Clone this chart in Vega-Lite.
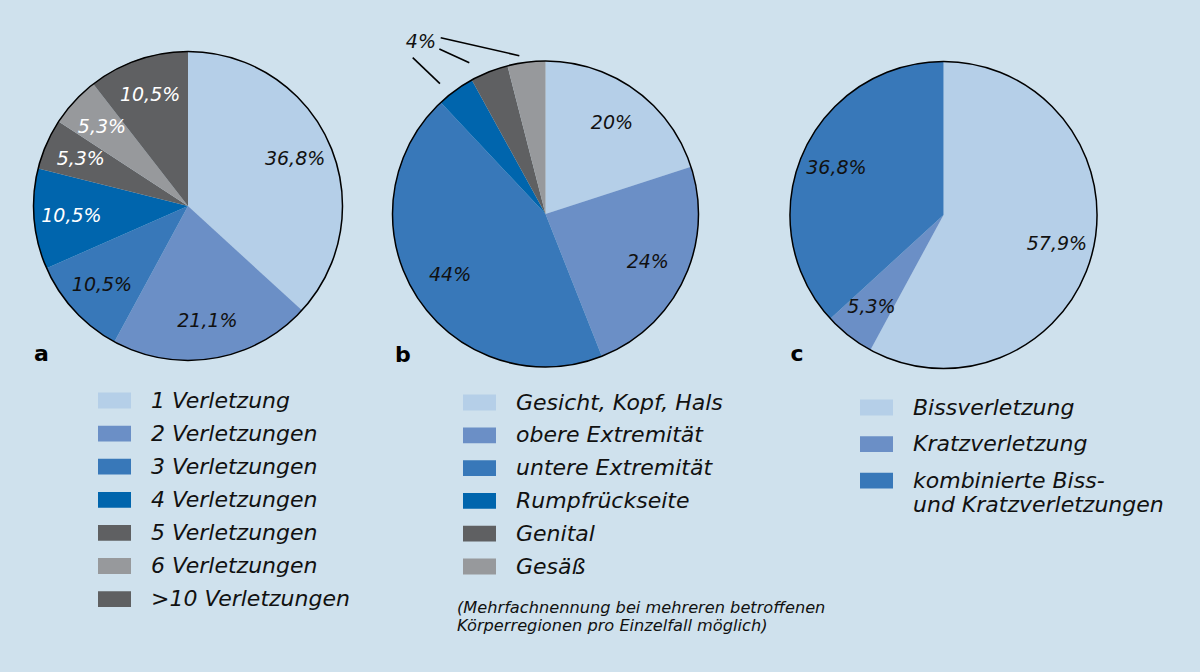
{
  "$schema": "https://vega.github.io/schema/vega-lite/v6.json",
  "background": "#cfe1ed",
  "padding": {"left": 0, "top": 0, "right": 28, "bottom": 0},
  "datasets": {
    "a": [
      {"cat": "1 Verletzung", "pct": 36.8, "label": "36,8%", "idx": 1},
      {"cat": "2 Verletzungen", "pct": 21.1, "label": "21,1%", "idx": 2},
      {"cat": "3 Verletzungen", "pct": 10.5, "label": "10,5%", "idx": 3},
      {"cat": "4 Verletzungen", "pct": 10.5, "label": "10,5%", "idx": 4},
      {"cat": "5 Verletzungen", "pct": 5.3, "label": "5,3%", "idx": 5},
      {"cat": "6 Verletzungen", "pct": 5.3, "label": "5,3%", "idx": 6},
      {"cat": ">10 Verletzungen", "pct": 10.5, "label": "10,5%", "idx": 7}
    ],
    "b": [
      {"cat": "Gesicht, Kopf, Hals", "pct": 20, "label": "20%", "idx": 1},
      {"cat": "obere Extremität", "pct": 24, "label": "24%", "idx": 2},
      {"cat": "untere Extremität", "pct": 44, "label": "44%", "idx": 3},
      {"cat": "Rumpfrückseite", "pct": 4, "label": "4%", "idx": 4},
      {"cat": "Genital", "pct": 4, "label": "4%", "idx": 5},
      {"cat": "Gesäß", "pct": 4, "label": "4%", "idx": 6}
    ],
    "c": [
      {"cat": "Bissverletzung", "pct": 57.9, "label": "57,9%", "idx": 1},
      {"cat": "Kratzverletzung", "pct": 5.3, "label": "5,3%", "idx": 2},
      {"cat": "kombinierte Biss- und Kratzverletzungen", "pct": 36.8, "label": "36,8%", "idx": 3}
    ],
    "outline": [{"v": 1}],
    "leaders": [
      {"x": -0.868, "y": 1.022, "x2": -0.690, "y2": 0.852},
      {"x": -0.694, "y": 1.078, "x2": -0.498, "y2": 0.989},
      {"x": -0.685, "y": 1.152, "x2": -0.171, "y2": 1.035}
    ]
  },
  "columns": 3,
  "spacing": 0,
  "bounds": "flush",
  "align": "each",
  "concat": [
    {
      "width": 376,
      "height": 412,
      "title": {"text": "a", "orient": "top", "anchor": "start", "frame": "group", "baseline": "alphabetic", "offset": -383.4, "dx": 34, "fontSize": 22, "fontWeight": "bold", "font": "DejaVu Sans", "color": "#000"},
      "layer": [
        {
          "data": {"name": "a"},
          "mark": {"type": "arc", "outerRadius": 154.5},
          "encoding": {
            "theta": {"field": "pct", "type": "quantitative", "stack": true},
            "order": {"field": "idx", "type": "quantitative"},
            "color": {
              "field": "cat", "type": "nominal",
              "scale": {
                "domain": ["1 Verletzung", "2 Verletzungen", "3 Verletzungen", "4 Verletzungen", "5 Verletzungen", "6 Verletzungen", ">10 Verletzungen"],
                "range": ["#b5cfe8", "#6b8fc6", "#3878b9", "#0065ad", "#5f6062", "#97999c", "#5f6062"]
              },
              "legend": {"orient": "none", "legendX": 98, "legendY": 384, "rowPadding": 5.1}
            }
          }
        },
        {
          "data": {"name": "a"},
          "mark": {"type": "text", "radius": 117, "fontSize": 19, "fontStyle": "italic", "font": "DejaVu Sans"},
          "encoding": {
            "theta": {"field": "pct", "type": "quantitative", "stack": true},
            "order": {"field": "idx", "type": "quantitative"},
            "detail": {"field": "cat", "type": "nominal"},
            "text": {"field": "label", "type": "nominal"},
            "color": {"condition": {"test": "datum.idx >= 4", "value": "#ffffff"}, "value": "#111111"}
          }
        },
        {
          "data": {"name": "outline"},
          "mark": {"type": "arc", "outerRadius": 154.5, "filled": false, "stroke": "#000000", "strokeWidth": 1.5},
          "encoding": {"theta": {"field": "v", "type": "quantitative"}}
        }
      ],
      "resolve": {"scale": {"theta": "independent"}}
    },
    {
      "width": 339,
      "height": 428,
      "title": {"text": "b", "orient": "top", "anchor": "start", "frame": "group", "baseline": "alphabetic", "offset": -384, "dx": 19, "fontSize": 22, "fontWeight": "bold", "font": "DejaVu Sans", "color": "#000"},
      "layer": [
        {
          "data": {"name": "b"},
          "mark": {"type": "arc", "outerRadius": 153},
          "encoding": {
            "theta": {"field": "pct", "type": "quantitative", "stack": true},
            "order": {"field": "idx", "type": "quantitative"},
            "color": {
              "field": "cat", "type": "nominal",
              "scale": {
                "domain": ["Gesicht, Kopf, Hals", "obere Extremität", "untere Extremität", "Rumpfrückseite", "Genital", "Gesäß"],
                "range": ["#b5cfe8", "#6b8fc6", "#3878b9", "#0065ad", "#5f6062", "#97999c"]
              },
              "legend": {"orient": "none", "legendX": 87, "legendY": 386, "rowPadding": 4.8}
            }
          }
        },
        {
          "data": {"name": "b"},
          "mark": {"type": "text", "radius": 113, "fontSize": 19, "fontStyle": "italic", "font": "DejaVu Sans", "color": "#111111"},
          "encoding": {
            "theta": {"field": "pct", "type": "quantitative", "stack": true},
            "order": {"field": "idx", "type": "quantitative"},
            "detail": {"field": "cat", "type": "nominal"},
            "text": {"condition": {"test": "datum.pct > 10", "field": "label", "type": "nominal"}, "value": ""},
            "size": {"condition": {"test": "datum.pct > 10", "value": 19}, "value": 0}
          }
        },
        {
          "data": {"name": "b"},
          "mark": {"type": "text", "radius": 212, "fontSize": 19, "fontStyle": "italic", "font": "DejaVu Sans", "color": "#111111"},
          "encoding": {
            "theta": {"field": "pct", "type": "quantitative", "stack": true},
            "order": {"field": "idx", "type": "quantitative"},
            "detail": {"field": "cat", "type": "nominal"},
            "text": {"condition": {"test": "datum.idx === 4", "field": "label", "type": "nominal"}, "value": ""},
            "size": {"condition": {"test": "datum.idx === 4", "value": 19}, "value": 0}
          }
        },
        {
          "data": {"name": "leaders"},
          "mark": {"type": "rule", "stroke": "#000000", "strokeWidth": 1.6},
          "encoding": {
            "x": {"field": "x", "type": "quantitative", "scale": {"domain": [-1.108, 1.108], "nice": false, "zero": false}, "axis": null},
            "y": {"field": "y", "type": "quantitative", "scale": {"domain": [-1.399, 1.399], "nice": false, "zero": false}, "axis": null},
            "x2": {"field": "x2"},
            "y2": {"field": "y2"}
          }
        },
        {
          "data": {"name": "outline"},
          "mark": {"type": "arc", "outerRadius": 153, "filled": false, "stroke": "#000000", "strokeWidth": 1.5},
          "encoding": {"theta": {"field": "v", "type": "quantitative"}}
        }
      ],
      "resolve": {"scale": {"theta": "independent"}}
    },
    {
      "width": 457,
      "height": 430,
      "title": {"text": "c", "orient": "top", "anchor": "start", "frame": "group", "baseline": "alphabetic", "offset": -383.4, "dx": 75.5, "fontSize": 22, "fontWeight": "bold", "font": "DejaVu Sans", "color": "#000"},
      "layer": [
        {
          "data": {"name": "c"},
          "mark": {"type": "arc", "outerRadius": 153.5},
          "encoding": {
            "theta": {"field": "pct", "type": "quantitative", "stack": true},
            "order": {"field": "idx", "type": "quantitative"},
            "color": {
              "field": "cat", "type": "nominal",
              "scale": {
                "domain": ["Bissverletzung", "Kratzverletzung", "kombinierte Biss- und Kratzverletzungen"],
                "range": ["#b5cfe8", "#6b8fc6", "#3878b9"]
              },
              "legend": {
                "orient": "none", "legendX": 145, "legendY": 391, "rowPadding": 8.6,
                "labelExpr": "datum.label === 'kombinierte Biss- und Kratzverletzungen' ? ['kombinierte Biss-', 'und Kratzverletzungen'] : datum.label"
              }
            }
          }
        },
        {
          "data": {"name": "c"},
          "mark": {"type": "text", "radius": 117, "fontSize": 19, "fontStyle": "italic", "font": "DejaVu Sans", "color": "#111111"},
          "encoding": {
            "theta": {"field": "pct", "type": "quantitative", "stack": true},
            "order": {"field": "idx", "type": "quantitative"},
            "detail": {"field": "cat", "type": "nominal"},
            "text": {"field": "label", "type": "nominal"}
          }
        },
        {
          "data": {"name": "outline"},
          "mark": {"type": "arc", "outerRadius": 153.5, "filled": false, "stroke": "#000000", "strokeWidth": 1.5},
          "encoding": {"theta": {"field": "v", "type": "quantitative"}}
        }
      ],
      "resolve": {"scale": {"theta": "independent"}}
    },
    {
      "width": 376, "height": 242,
      "data": {"values": []},
      "mark": "point"
    },
    {
      "width": 339, "height": 242,
      "data": {"values": []},
      "mark": "point",
      "title": {
        "text": ["(Mehrfachnennung bei mehreren betroffenen", "Körperregionen pro Einzelfall möglich)"],
        "orient": "bottom", "anchor": "start", "frame": "group", "baseline": "alphabetic",
        "offset": -59.5, "dx": 81, "fontSize": 16.2, "fontStyle": "italic", "fontWeight": "normal",
        "font": "DejaVu Sans", "color": "#111111", "lineHeight": 18
      }
    },
    {
      "width": 457, "height": 242,
      "data": {"values": []},
      "mark": "point"
    }
  ],
  "resolve": {
    "scale": {"color": "independent", "theta": "independent", "x": "independent", "y": "independent"},
    "legend": {"color": "independent"}
  },
  "config": {
    "font": "DejaVu Sans",
    "view": {"stroke": null},
    "legend": {
      "title": null,
      "padding": 0,
      "direction": "vertical",
      "symbolType": "M-1,-0.48H1V0.48H-1Z",
      "symbolSize": 1089,
      "symbolStrokeWidth": 0,
      "symbolOpacity": 1,
      "labelFont": "DejaVu Sans",
      "labelFontSize": 22,
      "labelFontStyle": "italic",
      "labelColor": "#111111",
      "labelOffset": 20,
      "labelLimit": 0
    }
  }
}
